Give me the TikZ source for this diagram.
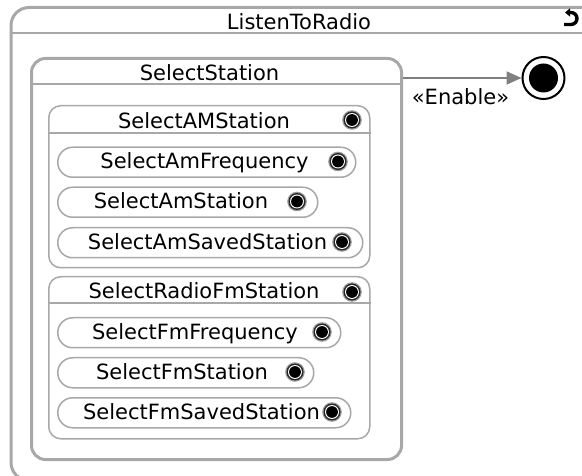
\documentclass[tikz,border=0pt]{standalone}
\usepackage{fontspec}
\setmainfont{DejaVu Sans}
\usetikzlibrary{arrows.meta}
\definecolor{bord}{RGB}{168,168,168}
\definecolor{arrc}{RGB}{128,128,128}
\tikzset{
  lbl/.style={font=\fontsize{21}{24}\selectfont, inner sep=0pt, anchor=base},
  comp/.style={draw=bord, line width=1.5pt, rounded corners=12pt, anchor=north west, inner sep=0pt},
  stbox/.style={draw=bord, line width=1.5pt, rounded corners=15pt, anchor=north west, inner sep=0pt, minimum height=30pt},
  hline/.style={draw=bord, line width=1.5pt},
  smicon/.pic={
    \fill[black!40] (0,0) circle (9.8pt);
    \fill[black!85] (0,0) circle (8.5pt);
    \fill[white] (0,0) circle (7pt);
    \fill[black] (0,0) circle (5.9pt);
  }
}
\begin{document}
\begin{tikzpicture}[x=1pt,y=-1pt]
\useasboundingbox (0,0) rectangle (582,476);
\clip (0,0) rectangle (582,476);
\fill[white] (0,0) rectangle (582,476);

% outer state
\node[comp, line width=3pt, rounded corners=18pt, minimum width=592pt, minimum height=473pt] (ltr) at (9.5,6) {};
\draw[hline, line width=2pt] (ltr.west |- 0,33) -- (ltr.east |- 0,33);
\node[lbl] (ltrt) at (299,29.5) {ListenToRadio};
\draw[line width=3.4pt, {Triangle[length=5pt,width=8pt]}-] (565,12.5) -- (571,12.5) arc[start angle=90, end angle=-90, radius=6pt] -- (564,24.5);

% SelectStation
\node[comp, line width=3pt, rounded corners=14pt, minimum width=370pt, minimum height=401pt] (ss) at (30,57) {};
\draw[hline] (ss.west |- 0,84) -- (ss.east |- 0,84);
\node[lbl] (sst) at (209.5,80.5) {SelectStation};

% SelectAMStation
\node[comp, minimum width=321pt, minimum height=162pt] (am) at (48,105) {};
\draw[hline] (am.west |- 0,133) -- (am.east |- 0,133);
\node[lbl] (amt) at (204,129) {SelectAMStation};
\pic at (352,120) {smicon};

\node[stbox, minimum width=298pt] (am1) at (57,146.5) {};
\node[lbl] (am1t) at (204.5,168.5) {SelectAmFrequency};
\pic at (338,161.5) {smicon};
\node[stbox, minimum width=260pt] (am2) at (57,186.5) {};
\node[lbl] (am2t) at (181,209) {SelectAmStation};
\pic at (297,201.5) {smicon};
\node[stbox, minimum width=305pt] (am3) at (57,227) {};
\node[lbl] (am3t) at (207.5,249.5) {SelectAmSavedStation};
\pic at (342,242) {smicon};

% SelectRadioFmStation
\node[comp, minimum width=321pt, minimum height=162pt] (fm) at (48,276) {};
\draw[hline] (fm.west |- 0,303) -- (fm.east |- 0,303);
\node[lbl] (fmt) at (204,299) {SelectRadioFmStation};
\pic at (352,292) {smicon};

\node[stbox, minimum width=283pt] (fm1) at (57,317) {};
\node[lbl] (fm1t) at (195,339.5) {SelectFmFrequency};
\pic at (322,332) {smicon};
\node[stbox, minimum width=256pt] (fm2) at (57,357) {};
\node[lbl] (fm2t) at (182,379.5) {SelectFmStation};
\pic at (295,372) {smicon};
\node[stbox, minimum width=293pt] (fm3) at (57,397) {};
\node[lbl] (fm3t) at (201.5,419.5) {SelectFmSavedStation};
\pic at (332,412) {smicon};

% final state
\node[circle, draw=black, line width=2pt, fill=white, minimum size=42pt, inner sep=0pt] (fs) at (543.5,78) {};
\node[circle, fill=black, minimum size=29pt, inner sep=0pt] (fsin) at (fs.center) {};

\draw[draw=arrc, line width=2pt, -{Triangle[length=15pt,width=13pt,fill=arrc]}] (ss.east |- fs.center) -- (fs.west);
\node[lbl] (en) at (460.5,105) {«Enable»};
\end{tikzpicture}
\end{document}
